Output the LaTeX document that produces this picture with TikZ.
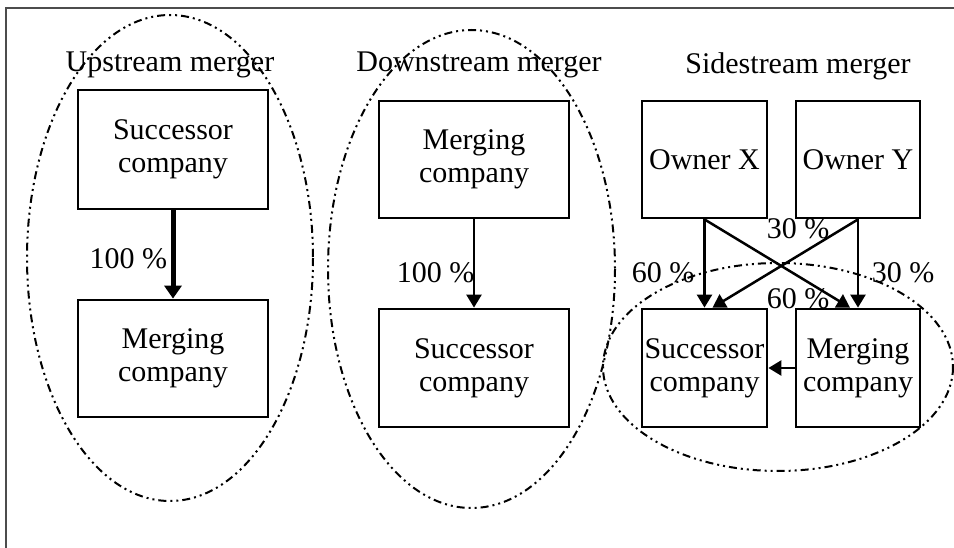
\documentclass[tikz,border=0pt]{standalone}
\usepackage{fontspec}
\setmainfont{Liberation Serif}
\usetikzlibrary{arrows.meta}

\begin{document}
\begin{tikzpicture}[x=1pt,y=-1pt,
  firm/.style={draw=black,line width=2.8pt,fill=white,align=center,inner sep=0pt,font=\fontsize{30}{33}\selectfont},
  pct/.style={font=\fontsize{30}{33}\selectfont},
  ttl/.style={anchor=base,font=\fontsize{30}{33}\selectfont},
  zone/.style={line width=2pt,dash pattern=on 8pt off 4pt on 2pt off 4pt on 2pt off 4pt},
  own/.style={line width=2.5pt,-{Triangle[length=13pt,width=15pt]}}]
\useasboundingbox (0,0) rectangle (954,548);
\draw[line width=2.5pt, black!70] (6,548) -- (6,8) -- (954,8);
% groups
\draw[zone] (170,258) ellipse [x radius=143, y radius=243];
\draw[zone] (471.5,269) ellipse [x radius=143.5, y radius=239];
\draw[zone] (778,367) ellipse [x radius=175, y radius=104];
\node[ttl] (upT) at (170,72) {Upstream merger};
\node[ttl] (downT) at (479,72) {Downstream merger};
\node[ttl] (sideT) at (798,74) {Sidestream merger};
% upstream
\node[firm, minimum width=190pt, minimum height=119pt] (succL) at (173,149.5) {Successor\\company};
\node[firm, minimum width=190pt, minimum height=117pt] (mergL) at (173,358.5) {Merging\\company};
\draw[own, line width=5pt, -{Triangle[length=13pt,width=17pt]}] (succL) -- (mergL) node[pct, pos=0.55, left=0pt] (pctL) {100 \%};
% downstream
\node[firm, minimum width=190pt, minimum height=117pt] (mergM) at (474,159.5) {Merging\\company};
\node[firm, minimum width=190pt, minimum height=118pt] (succM) at (474,368) {Successor\\company};
\draw[own] (mergM) -- (succM) node[pct, pos=0.6, left=-5pt] (pctM) {100 \%};
% sidestream
\node[firm, minimum width=125pt, minimum height=117pt] (ownX) at (704.5,159.5) {Owner X};
\node[firm, minimum width=124pt, minimum height=117pt] (ownY) at (858,159.5) {Owner Y};
\node[firm, minimum width=125pt, minimum height=118pt] (succR) at (704.5,368) {Successor\\company};
\node[firm, minimum width=124pt, minimum height=118pt] (mergR) at (858,368) {Merging\\company};
\draw[own] (ownX.south) -- (succR.north);
\draw[own] (ownY.south) -- ([xshift=8pt]succR.north);
\draw[own] (ownX.south) -- ([xshift=-8pt]mergR.north);
\draw[own] (ownY.south) -- (mergR.north);
\draw[own] (mergR) -- (succR);
\node[pct] (p30a) at (798,229) {30 \%};
\node[pct] (p60a) at (663,273) {60 \%};
\node[pct] (p30b) at (903,273) {30 \%};
\node[pct] (p60b) at (798,299) {60 \%};
\end{tikzpicture}
\end{document}
